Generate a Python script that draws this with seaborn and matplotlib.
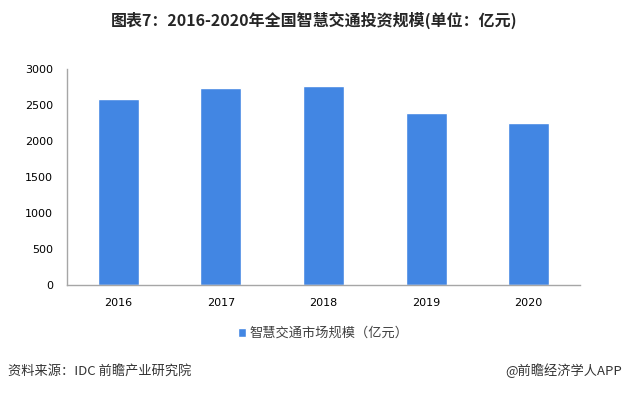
import numpy as np
import pandas as pd
import matplotlib
matplotlib.use('Agg')
import matplotlib.pyplot as plt
import seaborn as sns

# 数据
years = ['2016', '2017', '2018', '2019', '2020']
values = [2580, 2740, 2765, 2390, 2250]
series_name = '智慧交通市场规模（亿元）'
title = '图表7：2016-2020年全国智慧交通投资规模(单位：亿元)'
source = '资料来源：IDC 前瞻产业研究院'
credit = '@前瞻经济学人APP'

sns.set_style('white')
plt.rcParams['font.family'] = ['Noto Sans CJK SC', 'DejaVu Sans']

bar_color = '#4286E3'
axis_color = '#A6A6A6'
text_color = '#404040'

df = pd.DataFrame({'year': years, 'value': values})

fig = plt.figure(figsize=(6.28, 3.93), dpi=100)
ax = fig.add_axes([0.1067, 0.2748, 0.8169, 0.5496])

sns.barplot(data=df, x='year', y='value', color=bar_color, width=0.4,
            saturation=1, label=series_name, ax=ax)

ax.set_xlim(-0.5, 4.5)
ax.set_ylim(0, 3000)
ax.set_yticks(np.arange(0, 3001, 500))
ax.set_xlabel('')
ax.set_ylabel('')

# 坐标轴样式
for s in ['top', 'right']:
    ax.spines[s].set_visible(False)
for s in ['left', 'bottom']:
    ax.spines[s].set_color(axis_color)
    ax.spines[s].set_linewidth(1)

ax.tick_params(axis='y', length=4, color=axis_color, labelsize=8,
               labelcolor='#000000', pad=6)
ax.tick_params(axis='x', which='major', length=0, labelsize=8,
               labelcolor='#000000', pad=9)
ax.set_xticks(np.arange(-0.5, 5, 1), minor=True)
ax.tick_params(axis='x', which='minor', length=4, color=axis_color)
for lab in ax.get_xticklabels() + ax.get_yticklabels():
    lab.set_family('DejaVu Sans')

# 图例
ax.legend(loc='upper center', bbox_to_anchor=(0.5, -0.14), frameon=False,
          fontsize=9.5, handlelength=0.6, handleheight=0.6, handletextpad=0.3,
          labelcolor=text_color)

fig.text(0.5, 0.948, title, ha='center', va='center', fontsize=11.5,
         fontweight='bold', color='#262626')
fig.text(0.012, 0.056, source, ha='left', va='center', fontsize=9.5,
         color='#333333')
fig.text(0.99, 0.056, credit, ha='right', va='center', fontsize=9.5,
         color='#333333')

plt.savefig('out.png', dpi=100)
